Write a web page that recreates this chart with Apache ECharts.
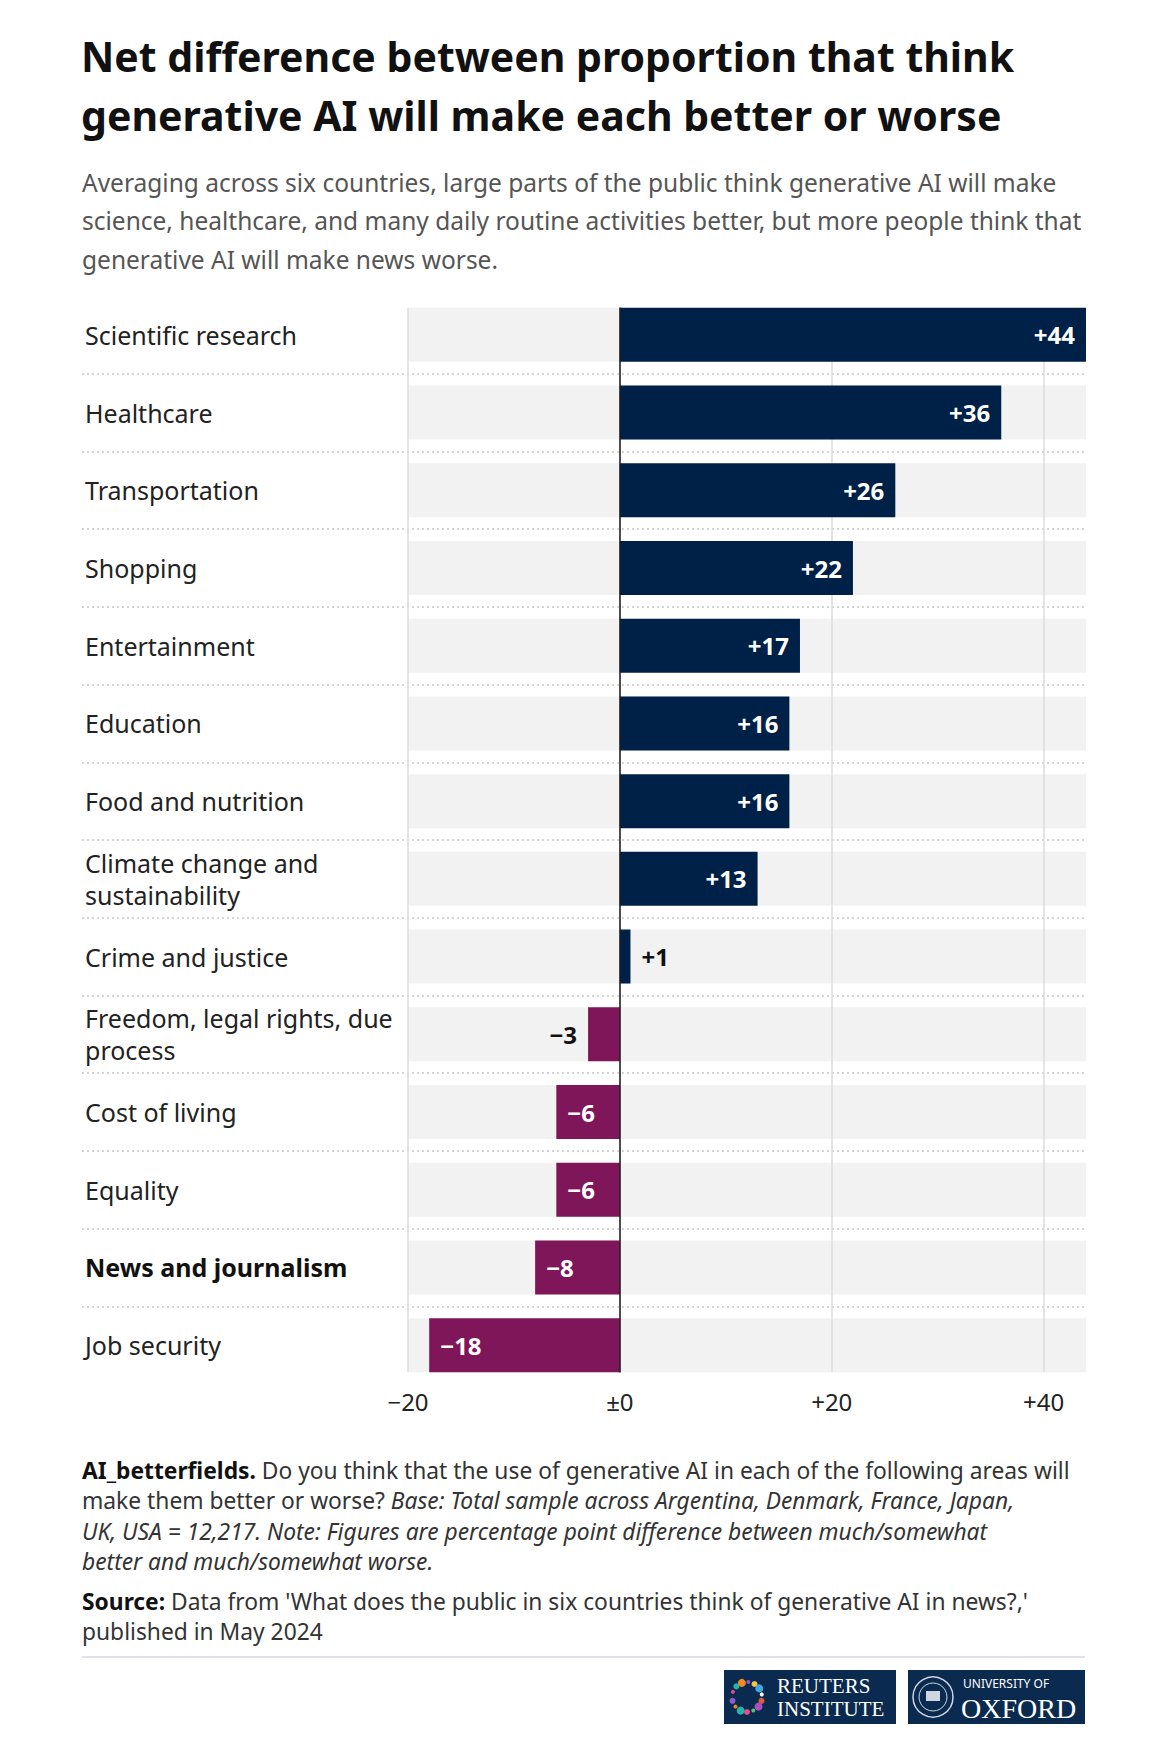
<!DOCTYPE html>
<html>
<head>
<meta charset="utf-8">
<script src="https://cdn.jsdelivr.net/npm/echarts@6/dist/echarts.min.js"></script>
<style>
  html, body { margin: 0; padding: 0; background: #fff; }
  #chart { width: 1170px; height: 1754px; }
</style>
</head>
<body>
<div id="chart"></div>
<script>
// DATA
var categories = [
  "Scientific research", "Healthcare", "Transportation", "Shopping",
  "Entertainment", "Education", "Food and nutrition",
  "Climate change and sustainability", "Crime and justice",
  "Freedom, legal rights, due process", "Cost of living", "Equality",
  "News and journalism", "Job security"
];
var netValues = [44, 36, 26, 22, 17, 16, 16, 13, 1, -3, -6, -6, -8, -18];
var tickValues = [-20, 0, 20, 40];
var tickLabels = ["\u221220", "\u00b10", "+20", "+40"];
var boldCategory = "News and journalism";

var FONT = "'Noto Sans', 'Open Sans', sans-serif";
var SERIF = "'Liberation Serif', 'DejaVu Serif', serif";
var POS = "#002147";
var NEG = "#7e1659";

// UTILS
function signed(v) {
  if (v > 0) return "+" + v;
  if (v < 0) return "\u2212" + Math.abs(v);
  return "\u00b10";
}

var barData = netValues.map(function (v) {
  var small = Math.abs(v) < 5;
  var pos;
  if (v >= 0) pos = small ? "right" : "insideRight";
  else pos = small ? "left" : "insideLeft";
  return {
    value: v,
    itemStyle: { color: v >= 0 ? POS : NEG },
    label: { position: pos, color: small ? "#111" : "#fff" }
  };
});

var myChart = echarts.init(document.getElementById("chart"), null, { renderer: "svg" });

var gridTop = 296, gridBottom = 370;

// header / footer text
var texts = [];
function addText(x, y, text, opt) {
  texts.push({
    type: "text",
    x: x, y: y,
    style: Object.assign({
      text: text,
      fontFamily: FONT,
      fontSize: 22,
      fill: "#333",
      verticalAlign: "middle"
    }, opt || {})
  });
}

addText(81, 56, "Net difference between proportion that think", { fontSize: 41, fontWeight: "bold", fill: "#111" });
addText(81, 115, "generative AI will make each better or worse", { fontSize: 41, fontWeight: "bold", fill: "#111" });

var subLines = [
  "Averaging across six countries, large parts of the public think generative AI will make",
  "science, healthcare, and many daily routine activities better, but more people think that",
  "generative AI will make news worse."
];
subLines.forEach(function (t, i) {
  addText(82, 182 + i * 38.5, t, { fontSize: 24.5, fill: "#555" });
});

var footRich = {
  b: { fontWeight: "bold", fill: "#111", fontFamily: FONT, fontSize: 22.8 },
  i: { fontStyle: "italic", fill: "#333", fontFamily: FONT, fontSize: 22.8 }
};
var footLines = [
  "{b|AI_betterfields.} Do you think that the use of generative AI in each of the following areas will",
  "make them better or worse? {i|Base: Total sample across Argentina, Denmark, France, Japan,}",
  "{i|UK, USA = 12,217. Note: Figures are percentage point difference between much/somewhat}",
  "{i|better and much/somewhat worse.}"
];
footLines.forEach(function (t, i) {
  addText(82, 1470 + i * 30.5, t, { fontSize: 22.8, fill: "#333", rich: footRich });
});
addText(82, 1601, "{b|Source:} Data from 'What does the public in six countries think of generative AI in news?,'", { fontSize: 22.8, fill: "#333", rich: footRich });
addText(82, 1631, "published in May 2024", { fontSize: 22.8, fill: "#333" });

// footer rule and logos
var logos = [
  { type: "rect", shape: { x: 82, y: 1656, width: 1003, height: 2 }, style: { fill: "#dfe2ea" } },
  { type: "rect", shape: { x: 724, y: 1670, width: 172, height: 54 }, style: { fill: "#0b2a4f" } },
  { type: "rect", shape: { x: 908, y: 1670, width: 177, height: 54 }, style: { fill: "#0b2a4f" } }
];
var dotColors = ["#e84a8a", "#27b3a8", "#f28a1f", "#8a5cc7", "#f5c242", "#3fa7e0", "#ffffff", "#e05a3a", "#b04ec0", "#5cc46a"];
var dotAngles = [200, 225, 250, 275, 300, 325, 350, 15, 40, 65, 90, 115, 140, 165];
dotAngles.forEach(function (a, i) {
  var rad = a * Math.PI / 180;
  logos.push({
    type: "circle",
    shape: { cx: 747 + 15 * Math.cos(rad), cy: 1697 + 15 * Math.sin(rad), r: 2 + (i % 3) },
    style: { fill: dotColors[i % dotColors.length] }
  });
});
logos.push(
  { type: "circle", shape: { cx: 933, cy: 1697, r: 20 }, style: { fill: "none", stroke: "#cfd6e2", lineWidth: 1.5 } },
  { type: "circle", shape: { cx: 933, cy: 1697, r: 14 }, style: { fill: "none", stroke: "#cfd6e2", lineWidth: 1 } },
  { type: "rect", shape: { x: 926, y: 1691, width: 14, height: 10 }, style: { fill: "#cfd6e2" } },
  { type: "text", x: 777, y: 1686, style: { text: "REUTERS", fontFamily: SERIF, fontSize: 21, fill: "#fff", verticalAlign: "middle" } },
  { type: "text", x: 777, y: 1709, style: { text: "INSTITUTE", fontFamily: SERIF, fontSize: 21, fill: "#fff", verticalAlign: "middle" } },
  { type: "text", x: 963, y: 1683, style: { text: "UNIVERSITY OF", fontFamily: FONT, fontSize: 12, fill: "#fff", verticalAlign: "middle" } },
  { type: "text", x: 961, y: 1708, style: { text: "OXFORD", fontFamily: SERIF, fontSize: 28, fill: "#fff", verticalAlign: "middle" } }
);

var option = {
  animation: false,
  backgroundColor: "#fff",
  textStyle: { fontFamily: FONT },
  graphic: texts.concat(logos),
  grid: [
    // bars
    { left: 408, right: 84, top: gridTop, bottom: gridBottom },
    // dotted row separators across label column
    { left: 82, right: 84, top: gridTop, bottom: gridBottom },
    // vertical grid lines, zero line and x labels
    { left: 408, right: 84, top: 308, bottom: 382 }
  ],
  xAxis: [
    { gridIndex: 0, type: "value", min: -20, max: 44, show: false },
    { gridIndex: 1, type: "value", min: 0, max: 1, show: false },
    {
      gridIndex: 2, type: "value", min: -20, max: 44, interval: 20, z: 2,
      axisLine: { show: false },
      axisTick: { show: false },
      splitLine: { show: true, showMaxLine: false, lineStyle: { color: "#dcdcdc", width: 1.5 } },
      axisLabel: {
        margin: 17,
        fontSize: 24,
        color: "#222",
        showMaxLabel: false,
        formatter: function (v) {
          var idx = tickValues.indexOf(v);
          return idx >= 0 ? tickLabels[idx] : "";
        }
      }
    }
  ],
  yAxis: [
    {
      gridIndex: 0, type: "category", data: categories, inverse: true,
      axisLine: { show: false },
      axisTick: { show: false },
      axisLabel: {
        align: "left",
        margin: 323,
        width: 318,
        overflow: "break",
        fontSize: 25,
        lineHeight: 32,
        color: "#222",
        formatter: function (v) {
          return v === boldCategory ? "{b|" + v + "}" : v;
        },
        rich: { b: { fontWeight: "bold", fontSize: 25, color: "#111", fontFamily: FONT } }
      }
    },
    {
      gridIndex: 1, type: "category", data: categories, inverse: true, z: 2,
      axisLine: { show: false },
      axisTick: { show: false },
      axisLabel: { show: false },
      splitLine: {
        show: true, showMinLine: false, showMaxLine: false,
        lineStyle: { color: "#c8c8c8", width: 1.5, type: [2, 3] }
      }
    },
    {
      gridIndex: 2, type: "category", data: categories, inverse: true, z: 4,
      axisLine: { show: true, onZero: true, lineStyle: { color: "#1a1a1a", width: 1.5 } },
      axisTick: { show: false },
      axisLabel: { show: false }
    }
  ],
  series: [
    {
      name: "row",
      type: "bar",
      xAxisIndex: 0, yAxisIndex: 0,
      z: 1,
      silent: true,
      barWidth: 54,
      barGap: "-100%",
      data: categories.map(function () { return 0; }),
      showBackground: true,
      backgroundStyle: { color: "#f2f2f2" },
      itemStyle: { color: "transparent" }
    },
    {
      name: "Net difference",
      type: "bar",
      xAxisIndex: 0, yAxisIndex: 0,
      z: 3,
      barWidth: 54,
      barGap: "-100%",
      data: barData,
      label: {
        show: true,
        fontSize: 24,
        fontWeight: "bold",
        distance: 11,
        formatter: function (p) { return signed(p.value); }
      }
    }
  ]
};

myChart.setOption(option);

window.addEventListener("resize", function () {
  if (myChart != null && myChart != undefined) {
    myChart.resize();
  }
});
</script>
</body>
</html>
